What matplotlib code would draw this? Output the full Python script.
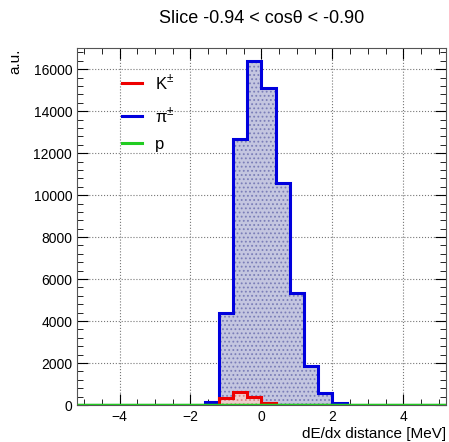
import numpy as np
import matplotlib.pyplot as plt
from matplotlib.ticker import MultipleLocator

plt.rcParams['font.family'] = ['Liberation Sans', 'DejaVu Sans']
plt.rcParams['mathtext.fontset'] = 'custom'
plt.rcParams['mathtext.rm'] = 'Liberation Sans'
plt.rcParams['hatch.linewidth'] = 0.8

# bin edges (dE/dx distance, MeV)
edges = np.arange(-5.2, 5.2001, 0.4)
# non-zero bin contents, keyed by the lower edge of the bin
pion_low = [-1.6, -1.2, -0.8, -0.4, 0.0, 0.4, 0.8, 1.2, 1.6, 2.0]
pion_counts = [150, 4400, 12680, 16400, 15080, 10600, 5320, 1870, 560, 80]
kaon_low = [-1.2, -0.8, -0.4, 0.0]
kaon_counts = [350, 610, 360, 100]
proton_counts = np.zeros(len(edges) - 1)


def fill_bins(lows, counts):
    h = np.zeros(len(edges) - 1)
    for lo, c in zip(lows, counts):
        h[int(round((lo - edges[0]) / 0.4))] = c
    return h


pion = fill_bins(pion_low, pion_counts)
kaon = fill_bins(kaon_low, kaon_counts)

fig = plt.figure(figsize=(4.49, 4.42), dpi=100)
ax = fig.add_axes([0.1715, 0.0837, 0.8215, 0.8073])

ax.stairs(pion, edges, fill=True, facecolor='#c4c6e0', edgecolor='#7b7eb8', lw=0, hatch='....', zorder=2)
ax.stairs(pion, edges, color='#0000dd', lw=2.2, zorder=3)
ax.stairs(kaon, edges, fill=True, facecolor='#f0cccc', edgecolor='#d88888', lw=0, hatch='....', zorder=4)
ax.stairs(kaon, edges, color='#ee0000', lw=2.2, zorder=5)
ax.stairs(proton_counts, edges, color='#22cc22', lw=2.5, zorder=6)

ax.plot([], [], color='#ee0000', lw=2.2, label='K$^{\\pm}$')
ax.plot([], [], color='#0000dd', lw=2.2, label='\u03c0$^{\\pm}$')
ax.plot([], [], color='#22cc22', lw=2.2, label='p')
ax.legend(loc='upper left', bbox_to_anchor=(0.08, 0.975), frameon=False,
          fontsize=12, handlelength=1.2, labelspacing=0.75)

ax.set_xlim(-5.2, 5.2)
ax.set_ylim(0, 17000)
ax.xaxis.set_minor_locator(MultipleLocator(0.5))
ax.yaxis.set_major_locator(MultipleLocator(2000))
ax.yaxis.set_minor_locator(MultipleLocator(400))
ax.set_xticks([-4, -2, 0, 2, 4])
ax.set_xticklabels(['\u22124', '\u22122', '0', '2', '4'])
ax.tick_params(which='both', direction='in', top=True, right=True, labelsize=10)
ax.tick_params(which='major', length=8)
ax.tick_params(which='minor', length=4)
ax.grid(True, which='major', ls=':', color='#777777', lw=0.8, zorder=0)
ax.set_axisbelow(True)
for s in ax.spines.values():
    s.set_color('#555555')

ax.set_title('Slice -0.94 < cos\u03b8 < -0.90', fontsize=13, pad=18)
ax.set_xlabel('dE/dx distance [MeV]', fontsize=11, loc='right', labelpad=2)
ax.set_ylabel('a.u.', fontsize=11, loc='top', labelpad=8)

fig.savefig('out.png', dpi=100)
